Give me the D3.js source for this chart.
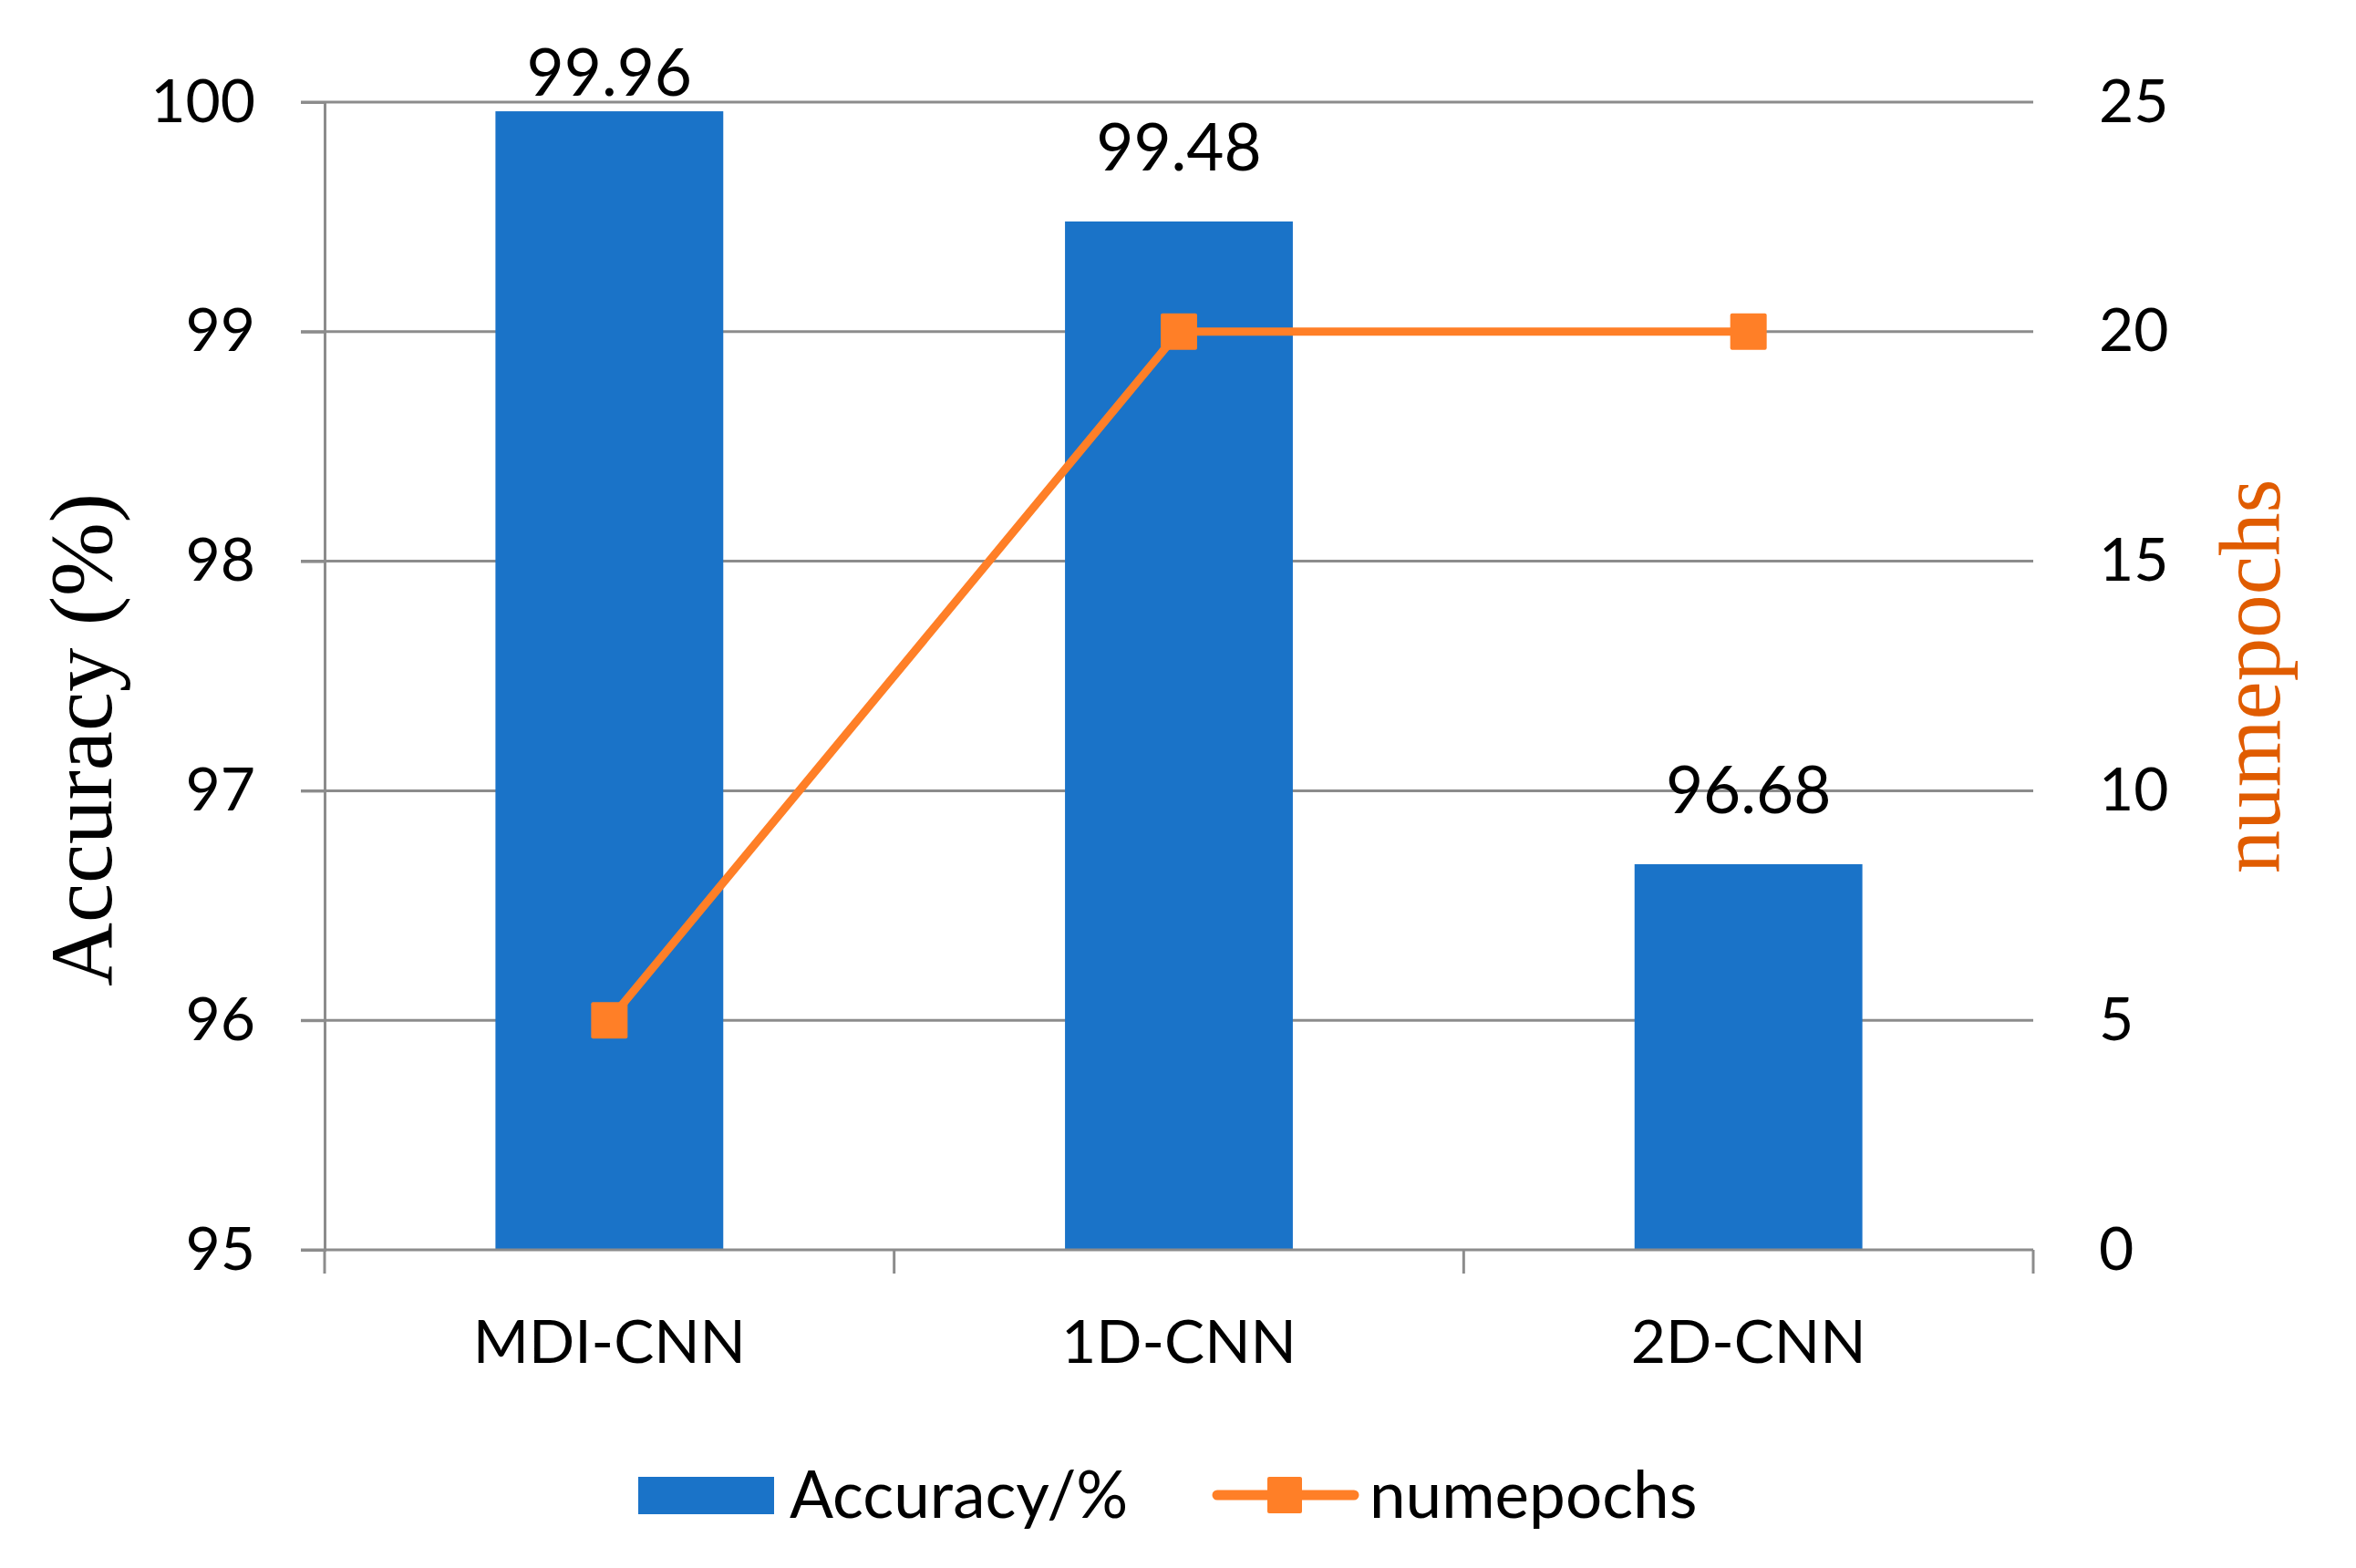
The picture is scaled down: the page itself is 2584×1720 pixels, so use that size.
<!DOCTYPE html>
<html>
<head>
<meta charset="utf-8">
<script src="https://cdn.jsdelivr.net/npm/d3@7"></script>
<style>
  html, body { margin: 0; padding: 0; background: #fff; }
  svg { display: block; }
</style>
</head>
<body>
<script>
const categories = ["MDI-CNN", "1D-CNN", "2D-CNN"];
const accuracy = [99.96, 99.48, 96.68];
const numepochs = [5, 20, 20];
const leftTicks = [95, 96, 97, 98, 99, 100];
const rightTicks = [0, 5, 10, 15, 20, 25];
const seriesNames = ["Accuracy/%", "numepochs"];
const axisTitles = ["Accuracy (%)", "numepochs"];

const W = 2584, H = 1720;
const m = { left: 356, right: W - 2230, top: 112, bottom: H - 1371 };
const blue = "#1a73c8", orange = "#ff7f27", grid = "#8c8c8c";
const sans = "Lato, 'Open Sans', sans-serif";
const serif = "'Liberation Serif', 'DejaVu Serif', serif";

const svg = d3.select("body").append("svg").attr("width", W).attr("height", H);

const x = d3.scaleBand().domain(categories).range([m.left, W - m.right]).paddingInner(0.6).paddingOuter(0.3);
const xb = d3.scaleBand().domain(categories).range([m.left, W - m.right]);
const yL = d3.scaleLinear().domain([95, 100]).range([H - m.bottom, m.top]);
const yR = d3.scaleLinear().domain([0, 25]).range([H - m.bottom, m.top]);

// gridlines
svg.append("g").selectAll("line").data(leftTicks.slice(1)).join("line")
  .attr("x1", m.left - 26).attr("x2", W - m.right)
  .attr("y1", d => yL(d)).attr("y2", d => yL(d))
  .attr("stroke", grid).attr("stroke-width", 3);

// bars
svg.append("g").selectAll("rect").data(categories).join("rect")
  .attr("x", d => x(d)).attr("width", x.bandwidth())
  .attr("y", (d, i) => yL(accuracy[i]))
  .attr("height", (d, i) => yL(95) - yL(accuracy[i]))
  .attr("fill", blue);

// left axis
const gL = svg.append("g").attr("transform", `translate(${m.left},0)`)
  .call(d3.axisLeft(yL).tickValues(leftTicks).tickSize(26).tickPadding(50).tickFormat(d3.format("d")));
gL.select(".domain").attr("stroke", grid).attr("stroke-width", 3);
gL.selectAll(".tick line").attr("stroke", grid).attr("stroke-width", 3);
gL.selectAll(".tick text").attr("font-family", sans).attr("font-size", 66).attr("fill", "#000");

// right axis
const gR = svg.append("g").attr("transform", `translate(${W - m.right},0)`)
  .call(d3.axisRight(yR).tickValues(rightTicks).tickSize(0).tickPadding(72));
gR.select(".domain").remove();
gR.selectAll(".tick text").attr("font-family", sans).attr("font-size", 66).attr("fill", "#000");

// bottom axis
const gB = svg.append("g").attr("transform", `translate(0,${H - m.bottom})`)
  .call(d3.axisBottom(xb).tickSize(0).tickPadding(77));
gB.select(".domain").attr("stroke", grid).attr("stroke-width", 3)
  .attr("d", `M${m.left - 26},0H${W - m.right}`);
gB.selectAll(".tick text").attr("font-family", sans).attr("font-size", 66).attr("fill", "#000");
const bounds = [...categories.map(c => xb(c)), xb(categories[categories.length - 1]) + xb.bandwidth()];
gB.append("g").selectAll("line").data(bounds).join("line")
  .attr("x1", d => d).attr("x2", d => d).attr("y1", 0).attr("y2", 26)
  .attr("stroke", grid).attr("stroke-width", 3);

// data labels
svg.append("g").selectAll("text").data(categories).join("text")
  .attr("x", d => x(d) + x.bandwidth() / 2)
  .attr("y", (d, i) => Math.max(yL(accuracy[i]) - 56, 105))
  .attr("text-anchor", "middle")
  .attr("font-family", sans).attr("font-size", 71).attr("fill", "#000")
  .text((d, i) => accuracy[i].toFixed(2));

// line
const line = d3.line().x((d, i) => x(categories[i]) + x.bandwidth() / 2).y(d => yR(d));
svg.append("path").datum(numepochs).attr("d", line)
  .attr("fill", "none").attr("stroke", orange).attr("stroke-width", 9).attr("stroke-linejoin", "round");
svg.append("g").selectAll("rect").data(numepochs).join("rect")
  .attr("x", (d, i) => x(categories[i]) + x.bandwidth() / 2 - 20)
  .attr("y", d => yR(d) - 20)
  .attr("width", 40).attr("height", 40).attr("rx", 2)
  .attr("fill", orange);

// axis titles
svg.append("text")
  .attr("transform", `translate(122,${(yL(95) + yL(100)) / 2 + 70}) rotate(-90)`)
  .attr("text-anchor", "middle")
  .attr("font-family", serif).attr("font-size", 97).attr("fill", "#000")
  .text(axisTitles[0]);
svg.append("text")
  .attr("transform", `translate(2500,742) rotate(-90)`)
  .attr("text-anchor", "middle")
  .attr("font-family", serif).attr("font-size", 95).attr("fill", "#e05c00")
  .text(axisTitles[1]);

// legend
const lg = svg.append("g");
lg.append("rect").attr("x", 700).attr("y", 1620).attr("width", 149).attr("height", 41).attr("fill", blue);
lg.append("text").attr("x", 866).attr("y", 1665)
  .attr("font-family", sans).attr("font-size", 71).attr("fill", "#000").text(seriesNames[0]);
lg.append("line").attr("x1", 1335).attr("x2", 1485).attr("y1", 1640).attr("y2", 1640)
  .attr("stroke", orange).attr("stroke-width", 11).attr("stroke-linecap", "round");
lg.append("rect").attr("x", 1390).attr("y", 1620).attr("width", 38).attr("height", 40).attr("rx", 2).attr("fill", orange);
lg.append("text").attr("x", 1502).attr("y", 1665)
  .attr("font-family", sans).attr("font-size", 71).attr("fill", "#000").text(seriesNames[1]);
</script>
</body>
</html>
